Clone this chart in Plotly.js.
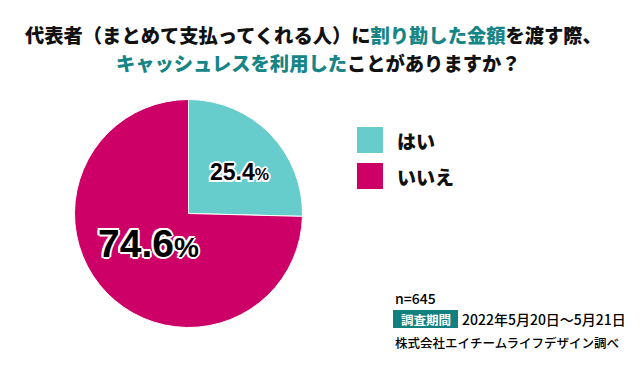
<!DOCTYPE html>
<html>
<head>
<meta charset="utf-8">
<script src="https://cdn.plot.ly/plotly-3.0.1.min.js"></script>
<style>html,body{margin:0;padding:0;background:#fff;}#chart{width:640px;height:368px;}</style>
</head>
<body>
<div id="chart"></div>
<script>
const labels = ['はい', 'いいえ'];
const values = [25.4, 74.6];
const colors = ['#66CCCC', '#CC0066'];
const sampleSize = 645;
const surveyPeriod = '2022年5月20日〜5月21日';
const source = '株式会社エイチームライフデザイン調べ';

const W = 640, H = 368;
const X = p => p / W;
const Y = p => 1 - p / H;
const JP = '"Noto Sans CJK JP", "Noto Sans", sans-serif';
const NUM = '"Liberation Sans", Arial, sans-serif';
const TEAL = '#168585';

const pct = v => v.toFixed(1);

const trace = {
  type: 'pie',
  labels: labels,
  values: values,
  sort: false,
  direction: 'clockwise',
  rotation: 0,
  textinfo: 'none',
  hoverinfo: 'none',
  marker: {colors: colors, line: {color: '#ffffff', width: 1}},
  domain: {x: [X(74.5), X(302.5)], y: [Y(327.5), Y(99.5)]},
  showlegend: false
};

const shapes = [];
const annotations = [];

// title (two lines)
const title1 = '代表者（まとめて支払ってくれる人）に<span style="color:' + TEAL + '">割り勘した金額</span>を渡す際、';
const title2 = '<span style="color:' + TEAL + '">キャッシュレスを利用した</span>ことがありますか？';
annotations.push({xref: 'paper', yref: 'paper', x: X(313), y: Y(35.5), xanchor: 'center', yanchor: 'middle',
  showarrow: false, borderpad: 0, text: title1, font: {family: JP, size: 19.3, color: '#111', weight: 900}});
annotations.push({xref: 'paper', yref: 'paper', x: X(318.5), y: Y(63), xanchor: 'center', yanchor: 'middle',
  showarrow: false, borderpad: 0, text: title2, font: {family: JP, size: 19.3, color: '#111', weight: 900}});

// legend
const legY = [[127, 153], [163, 189]];
labels.forEach((lab, i) => {
  shapes.push({type: 'rect', xref: 'paper', yref: 'paper',
    x0: X(357), x1: X(383), y0: Y(legY[i][1]), y1: Y(legY[i][0]),
    fillcolor: colors[i], line: {width: 0}});
  annotations.push({xref: 'paper', yref: 'paper', x: X(395), y: Y((legY[i][0] + legY[i][1]) / 2),
    xanchor: 'left', yanchor: 'middle', showarrow: false, text: lab,
    font: {family: JP, size: 19, color: '#111', weight: 900}});
});

// percentage labels with white outline (white copies behind, black on top)
const pctLabels = [
  {v: values[0], px: 239, py: 172, size: 23, psize: 16},
  {v: values[1], px: 148, py: 243, size: 39, psize: 28}
];
const offs = [[2,0],[-2,0],[0,2],[0,-2],[1.5,1.5],[-1.5,1.5],[1.5,-1.5],[-1.5,-1.5]];
pctLabels.forEach(p => {
  const txt = pct(p.v) + '<span style="font-size:' + p.psize + 'px">%</span>';
  offs.forEach(o => {
    annotations.push({xref: 'paper', yref: 'paper', x: X(p.px), y: Y(p.py), xanchor: 'center', yanchor: 'middle',
      xshift: o[0], yshift: o[1], showarrow: false, text: txt,
      font: {family: NUM, size: p.size, color: '#ffffff', weight: 'bold'}});
  });
  annotations.push({xref: 'paper', yref: 'paper', x: X(p.px), y: Y(p.py), xanchor: 'center', yanchor: 'middle',
    showarrow: false, text: txt, font: {family: NUM, size: p.size, color: '#000', weight: 'bold'}});
});

// footer
annotations.push({xref: 'paper', yref: 'paper', x: X(393), y: Y(298), xanchor: 'left', yanchor: 'middle',
  showarrow: false, text: 'n=' + sampleSize, font: {family: JP, size: 14, color: '#000', weight: 500}});
shapes.push({type: 'rect', xref: 'paper', yref: 'paper', x0: X(393), x1: X(458), y0: Y(328), y1: Y(310),
  fillcolor: '#138080', line: {width: 0}});
annotations.push({xref: 'paper', yref: 'paper', x: X(425.5), y: Y(319), xanchor: 'center', yanchor: 'middle',
  showarrow: false, text: '調査期間', font: {family: JP, size: 12.5, color: '#fff', weight: 'bold'}});
annotations.push({xref: 'paper', yref: 'paper', x: X(460), y: Y(319), xanchor: 'left', yanchor: 'middle',
  showarrow: false, text: surveyPeriod, font: {family: JP, size: 14, color: '#000', weight: 500}});
annotations.push({xref: 'paper', yref: 'paper', x: X(393), y: Y(342), xanchor: 'left', yanchor: 'middle',
  showarrow: false, text: source, font: {family: JP, size: 12.5, color: '#000', weight: 500}});

const layout = {
  width: W, height: H,
  margin: {l: 0, r: 0, t: 0, b: 0},
  paper_bgcolor: '#fff',
  shapes: shapes,
  annotations: annotations,
  showlegend: false
};

Plotly.newPlot('chart', [trace], layout, {displayModeBar: false, staticPlot: true});
</script>
</body>
</html>
